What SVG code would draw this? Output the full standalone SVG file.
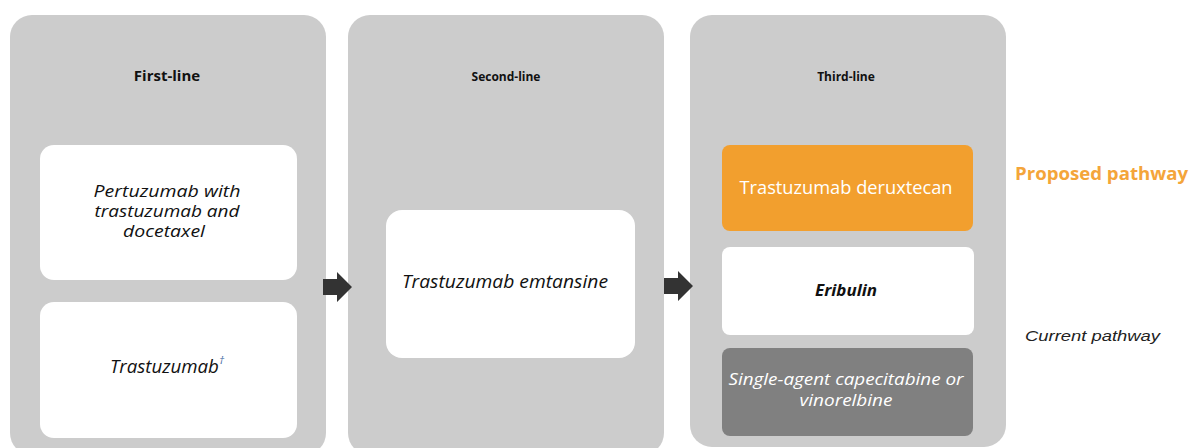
<svg xmlns="http://www.w3.org/2000/svg" width="1190" height="448" viewBox="0 0 1190 448">
<style>
.panel{fill:#cccccc}
.box{fill:#ffffff}
.t{font-family:"Open Sans","Liberation Sans",sans-serif;text-anchor:middle;fill:#111111}
.hd{font-weight:bold;font-size:13px}
.it{font-style:italic;font-size:17.5px}
.arrow{fill:#333333}
</style>
<rect width="1190" height="448" fill="#ffffff"/>
<g id="panel-first">
<rect class="panel" x="10" y="15" width="316" height="440" rx="22"/>
<text class="t hd" x="167" y="81" style="font-size:15px">First-line</text>
</g>
<g id="panel-second">
<rect class="panel" x="348" y="15" width="316" height="440" rx="22"/>
<text class="t hd" x="506" y="81" style="font-size:12px">Second-line</text>
</g>
<g id="panel-third">
<rect class="panel" x="690" y="15" width="316" height="432" rx="22"/>
<text class="t hd" x="846" y="81" style="font-size:12px">Third-line</text>
</g>
<g id="node-pertuzumab">
<rect class="box" x="40" y="145" width="257" height="135" rx="14"/>
<text class="t it" x="167" y="197" style="font-size:15.5px" textLength="147" lengthAdjust="spacingAndGlyphs">Pertuzumab with</text>
<text class="t it" x="167" y="217" style="font-size:15.5px" textLength="145" lengthAdjust="spacingAndGlyphs">trastuzumab and</text>
<text class="t it" x="164" y="237" style="font-size:15.5px" textLength="82" lengthAdjust="spacingAndGlyphs">docetaxel</text>
</g>
<g id="node-trastuzumab">
<rect class="box" x="40" y="302" width="257" height="136" rx="14"/>
<text class="t it" x="167" y="373"><tspan textLength="109" lengthAdjust="spacingAndGlyphs">Trastuzumab</tspan><tspan font-size="11" dy="-9" fill="#4a6fa5">†</tspan></text>
</g>
<g id="node-tdm1">
<rect class="box" x="386" y="210" width="249" height="148" rx="16"/>
<text class="t it" x="505" y="288" textLength="206" lengthAdjust="spacingAndGlyphs">Trastuzumab emtansine</text>
</g>
<g id="node-tdxd">
<rect x="722" y="145" width="251" height="86" rx="8" fill="#f29f2e"/>
<text class="t" x="846" y="194" style="fill:#ffffff;font-size:17.5px" textLength="213" lengthAdjust="spacingAndGlyphs">Trastuzumab deruxtecan</text>
</g>
<g id="node-eribulin">
<rect class="box" x="722" y="247" width="252" height="88" rx="8"/>
<text class="t it" x="846" y="296" style="font-weight:bold;font-size:16px" textLength="62" lengthAdjust="spacingAndGlyphs">Eribulin</text>
</g>
<g id="node-capecitabine">
<rect x="722" y="348" width="251" height="88" rx="8" fill="#808080"/>
<text class="t it" x="846" y="385" style="fill:#ffffff;font-size:16px" textLength="235" lengthAdjust="spacingAndGlyphs">Single-agent capecitabine or</text>
<text class="t it" x="846" y="406" style="fill:#ffffff;font-size:16px" textLength="93" lengthAdjust="spacingAndGlyphs">vinorelbine</text>
</g>
<g id="legend">
<text x="1015" y="180" style="font-family:'Open Sans','Liberation Sans',sans-serif;font-weight:bold;font-size:17.5px;fill:#f4a53a" textLength="173" lengthAdjust="spacingAndGlyphs">Proposed pathway</text>
<text x="1025" y="341" style="font-family:'Liberation Sans',sans-serif;font-style:italic;font-size:15.5px;fill:#222222" textLength="135" lengthAdjust="spacingAndGlyphs">Current pathway</text>
</g>
<g id="connectors">
<path class="arrow" d="M323,279 L337,279 L337,272 L352,287 L337,302 L337,295 L323,295 Z"/>
<path class="arrow" d="M664,278 L678,278 L678,271 L693,286 L678,301 L678,294 L664,294 Z"/>
</g>
</svg>
